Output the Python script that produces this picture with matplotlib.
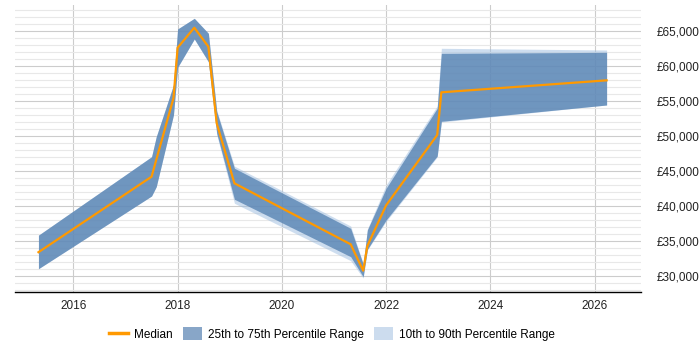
import matplotlib
matplotlib.use("Agg")
import matplotlib.pyplot as plt
from matplotlib.lines import Line2D
from matplotlib.patches import Patch
from matplotlib.ticker import MultipleLocator, FuncFormatter

plt.rcParams['font.family'] = ['Liberation Sans', 'DejaVu Sans']

years = [2015.33, 2017.50, 2017.59, 2017.92, 2018.00, 2018.32, 2018.59, 2018.75,
         2019.09, 2021.32, 2021.56, 2021.64, 2022.00, 2022.98, 2023.06, 2026.23]
median = [33400, 44190, 46590, 55400, 62610, 65470, 62760, 51810,
          43240, 34530, 30760, 34300, 40100, 50140, 56240, 57950]
p25 = [31040, 41430, 42760, 53000, 59810, 63860, 60610, 50400,
       40960, 32760, 29900, 33800, 38000, 47140, 52100, 54430]
p75 = [35830, 47040, 49900, 57290, 65290, 66810, 64670, 53500,
       45390, 36810, 31700, 36570, 42530, 53960, 61810, 61950]
p10 = [31040, 41430, 42760, 53000, 59810, 63860, 60610, 50200,
       40390, 32190, 29700, 33700, 37800, 47000, 52000, 54430]
p90 = [35830, 47040, 49900, 57290, 65290, 66810, 64670, 53700,
       45700, 37140, 31800, 36700, 43000, 54290, 62530, 62290]

legend_labels = ["Median", "25th to 75th Percentile Range", "10th to 90th Percentile Range"]

fig = plt.figure(figsize=(7, 3.5), dpi=100)
ax = fig.add_axes([15/700, 58/350, 626/700, 287/350])

ax.fill_between(years, p10, p90, color='#9dbde0', alpha=0.5, linewidth=0, zorder=2)
ax.fill_between(years, p25, p75, color='#5884b3', alpha=0.8, linewidth=0, zorder=3)
ax.plot(years, median, color='#ff9900', linewidth=1.6, zorder=4)

ax.set_xlim(2014.88, 2026.89)
ax.set_ylim(27714, 68714)

ax.xaxis.set_major_locator(MultipleLocator(2))
ax.yaxis.set_major_locator(MultipleLocator(5000))
ax.yaxis.set_minor_locator(MultipleLocator(1000))
ax.yaxis.set_major_formatter(FuncFormatter(lambda v, p: '£{:,.0f}'.format(v)))
ax.yaxis.tick_right()

ax.grid(axis='x', which='major', color='#cccccc', linewidth=0.8, zorder=0)
ax.grid(axis='y', which='major', color='#cccccc', linewidth=0.8, zorder=0)
ax.grid(axis='y', which='minor', color='#e8e8e8', linewidth=0.8, zorder=0)
ax.set_axisbelow(True)

for s in ['top', 'right', 'left']:
    ax.spines[s].set_visible(False)
ax.spines['bottom'].set_color('#000000')
ax.spines['bottom'].set_linewidth(1.0)

ax.tick_params(axis='both', which='both', length=0, labelsize=8.5, colors='#222222')
ax.tick_params(axis='y', pad=11)
ax.tick_params(axis='x', pad=6)

handles = [Line2D([0], [0], color='#ff9900', linewidth=2.5),
           Patch(facecolor='#88a6c8', edgecolor='none'),
           Patch(facecolor='#ccdcee', edgecolor='none')]
fig.legend(handles, legend_labels, loc='center', bbox_to_anchor=(332/700, 1 - 334/350),
           ncol=3, frameon=False, fontsize=8.5, handlelength=1.6, handleheight=1.2,
           handletextpad=0.5, columnspacing=0.9)

fig.savefig('out.png', dpi=100)
